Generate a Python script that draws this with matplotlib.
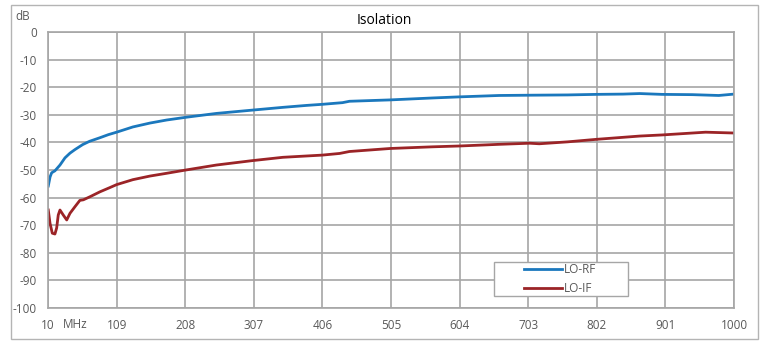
import matplotlib.pyplot as plt
from matplotlib.patches import Rectangle

plt.rcParams["font.family"] = ["Open Sans", "DejaVu Sans"]

# LO-RF isolation, frequency in MHz / level in dB
rf_freq = [10.4, 13, 15.3, 20, 27.3, 34.5, 41.7, 48.9, 60, 70, 85, 97, 109,
           132.5, 157, 181, 209, 253, 305, 349, 383, 406, 435, 445, 504,
           565, 604, 661, 705, 760, 801, 840, 864, 896, 940, 978, 1000]
rf_db = [-55.8, -52.5, -51.0, -50.3, -48.2, -45.6, -43.9, -42.6, -40.8,
         -39.6, -38.3, -37.2, -36.3, -34.4, -33.0, -31.9, -30.9, -29.5,
         -28.3, -27.3, -26.6, -26.2, -25.6, -25.1, -24.6, -23.9, -23.5,
         -23.0, -22.9, -22.8, -22.6, -22.5, -22.3, -22.6, -22.7, -23.0, -22.5]

# LO-IF isolation
if_freq = [10.4, 12.9, 16.2, 20, 22.5, 24.8, 27.3, 32, 37, 41.7, 48.9, 56,
           61, 70.5, 85, 99, 109, 132.5, 157, 181, 209, 253, 305, 349, 406,
           431, 445, 504, 565, 604, 661, 705, 719, 760, 801, 864, 896, 959, 1000]
if_db = [-64.5, -69.3, -72.9, -73.2, -71.0, -66.3, -64.5, -66.3, -68.1,
         -65.7, -63.3, -61.0, -60.8, -59.7, -57.9, -56.4, -55.3, -53.5,
         -52.2, -51.2, -50.0, -48.2, -46.6, -45.4, -44.6, -44.0, -43.3,
         -42.2, -41.6, -41.3, -40.7, -40.3, -40.5, -39.8, -38.9, -37.7,
         -37.3, -36.3, -36.6]

x_ticks = [10, 109, 208, 307, 406, 505, 604, 703, 802, 901, 1000]
y_ticks = list(range(-100, 1, 10))

grid_col = "#a6a6a6"
text_col = "#595959"
W, H = 761, 346

fig = plt.figure(figsize=(W / 100, H / 100), dpi=100)
# outer chart border
fig.patches.append(Rectangle((11 / W, 1 - 339 / H), 747 / W, 334 / H,
                             transform=fig.transFigure, fill=False,
                             edgecolor="#b4b4b4", linewidth=1.0))

ax = fig.add_axes([48 / W, 1 - 308 / H, 686 / W, 276 / H])
ax.plot(rf_freq, rf_db, color="#1B78BD", linewidth=2.0, label="LO-RF")
ax.plot(if_freq, if_db, color="#9B2427", linewidth=2.0, label="LO-IF")

ax.set_xlim(10, 1000)
ax.set_ylim(-100, 0)
ax.set_xticks(x_ticks)
ax.set_yticks(y_ticks)
ax.set_yticklabels([str(v) for v in y_ticks])
ax.grid(True, color=grid_col, linewidth=1.2)
ax.set_axisbelow(True)
for s in ax.spines.values():
    s.set_color(grid_col)
    s.set_linewidth(1.2)
ax.tick_params(length=0, labelsize=8.5, colors=text_col, pad=8)
ax.tick_params(axis="x", pad=8)

fig.text(63 / W, 1 - 324 / H, "MHz", fontsize=8.5, color=text_col,
         ha="left", va="center")
fig.text(23 / W, 1 - 17 / H, "dB", fontsize=8.5, color=text_col,
         ha="center", va="center")
fig.text(384 / W, 1 - 20 / H, "Isolation", fontsize=10, color="black",
         ha="center", va="center")

# legend box drawn wider than the entries, entries sit inside it
fig.patches.append(Rectangle((494 / W, 1 - 296 / H), 134 / W, 34 / H,
                             transform=fig.transFigure, facecolor="white",
                             edgecolor=grid_col, linewidth=1.0, zorder=5))
leg = fig.legend(loc="center left", bbox_to_anchor=(524 / W, 1 - 279 / H),
                 frameon=False, fontsize=8.5, handlelength=3.2,
                 labelspacing=0.45, handletextpad=0.15, borderpad=0,
                 borderaxespad=0)
leg.set_zorder(6)
for t in leg.get_texts():
    t.set_color(text_col)

fig.savefig("out.png", dpi=100)
